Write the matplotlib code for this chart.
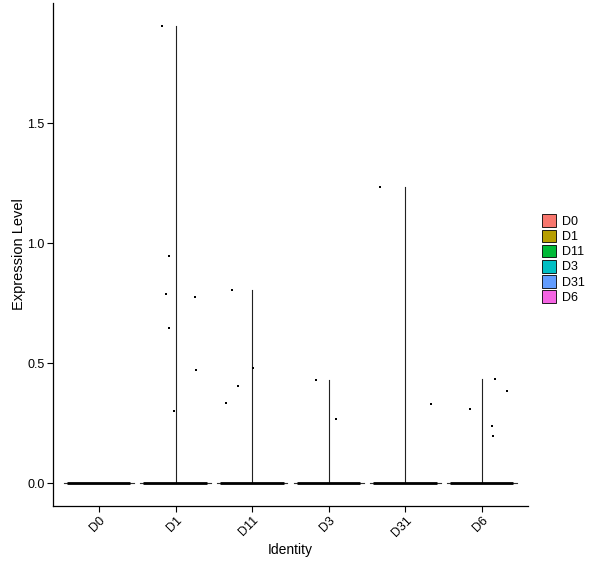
import matplotlib

matplotlib.use('Agg')

import matplotlib.pyplot as plt
from matplotlib.patches import Patch

plt.rcParams['font.family'] = ['Liberation Sans', 'DejaVu Sans']

idents = ['D0', 'D1', 'D11', 'D3', 'D31', 'D6']
colors = ['#F8766D', '#B79F00', '#00BA38', '#00BFC4', '#619CFF', '#F564E3']

# max expression per identity (top of the violin)
max_expr = [0.0, 1.904, 0.804, 0.430, 1.233, 0.433]

# non-zero cells: (identity index, jitter offset, value)
pt_group = [1, 1, 1, 1, 1, 1, 1,
            2, 2, 2, 2,
            3, 3,
            4, 4,
            5, 5, 5, 5, 5]
pt_jitter = [-0.18, -0.08, -0.13, -0.08, 0.25, 0.27, -0.02,
             -0.26, -0.34, -0.18, 0.01,
             -0.17, 0.09,
             -0.33, 0.34,
             -0.16, 0.17, 0.32, 0.13, 0.14]
pt_value = [1.904, 0.946, 0.790, 0.646, 0.775, 0.472, 0.301,
            0.804, 0.335, 0.405, 0.479,
            0.430, 0.267,
            1.233, 0.330,
            0.308, 0.433, 0.383, 0.237, 0.196]

fig = plt.figure(figsize=(6.0, 5.68), dpi=100)
ax = fig.add_axes([53 / 600, 62 / 568, 475 / 600, 503 / 568])

pos = list(range(1, len(idents) + 1))
for x, c, m in zip(pos, colors, max_expr):
    # flattened violin: almost all cells at zero
    ax.plot([x - 0.46, x + 0.46], [0, 0], color='#333333', lw=0.8, zorder=2)
    if m > 0:
        ax.plot([x, x], [0, m], color='#222222', lw=0.8, zorder=2)
    # dense zero-valued cells
    ax.plot([x - 0.42, x + 0.41], [0, 0], color='black', lw=2.0,
            solid_capstyle='butt', zorder=3)

px = [pos[g] + j for g, j in zip(pt_group, pt_jitter)]
ax.scatter(px, pt_value, s=3.5, color='black', marker='s', lw=0, zorder=4)

ax.set_xlim(0.4, 6.6)
ax.set_ylim(-0.095, 2.0)
ax.set_xticks(pos)
ax.set_xticklabels(idents, rotation=45, ha='right', va='top',
                   rotation_mode='anchor', fontsize=9)
ax.set_yticks([0.0, 0.5, 1.0, 1.5])
ax.set_yticklabels(['0.0', '0.5', '1.0', '1.5'], fontsize=9)
ax.tick_params(direction='out', length=4, width=0.8, colors='black', pad=2)
for s in ['top', 'right']:
    ax.spines[s].set_visible(False)
for s in ['left', 'bottom']:
    ax.spines[s].set_linewidth(0.9)
ax.set_xlabel('Identity', fontsize=10, labelpad=3)
ax.set_ylabel('Expression Level', fontsize=10.5, labelpad=1)

handles = [Patch(facecolor=c, edgecolor='black', lw=0.6) for c in colors]
fig.legend(handles, idents, loc='center left',
           bbox_to_anchor=(542 / 600, 1 - 259 / 568), frameon=False,
           fontsize=9, handlelength=1.1, handleheight=1.2,
           handletextpad=0.5, labelspacing=0.12, borderaxespad=0,
           borderpad=0)

fig.savefig('out.png', dpi=100)
